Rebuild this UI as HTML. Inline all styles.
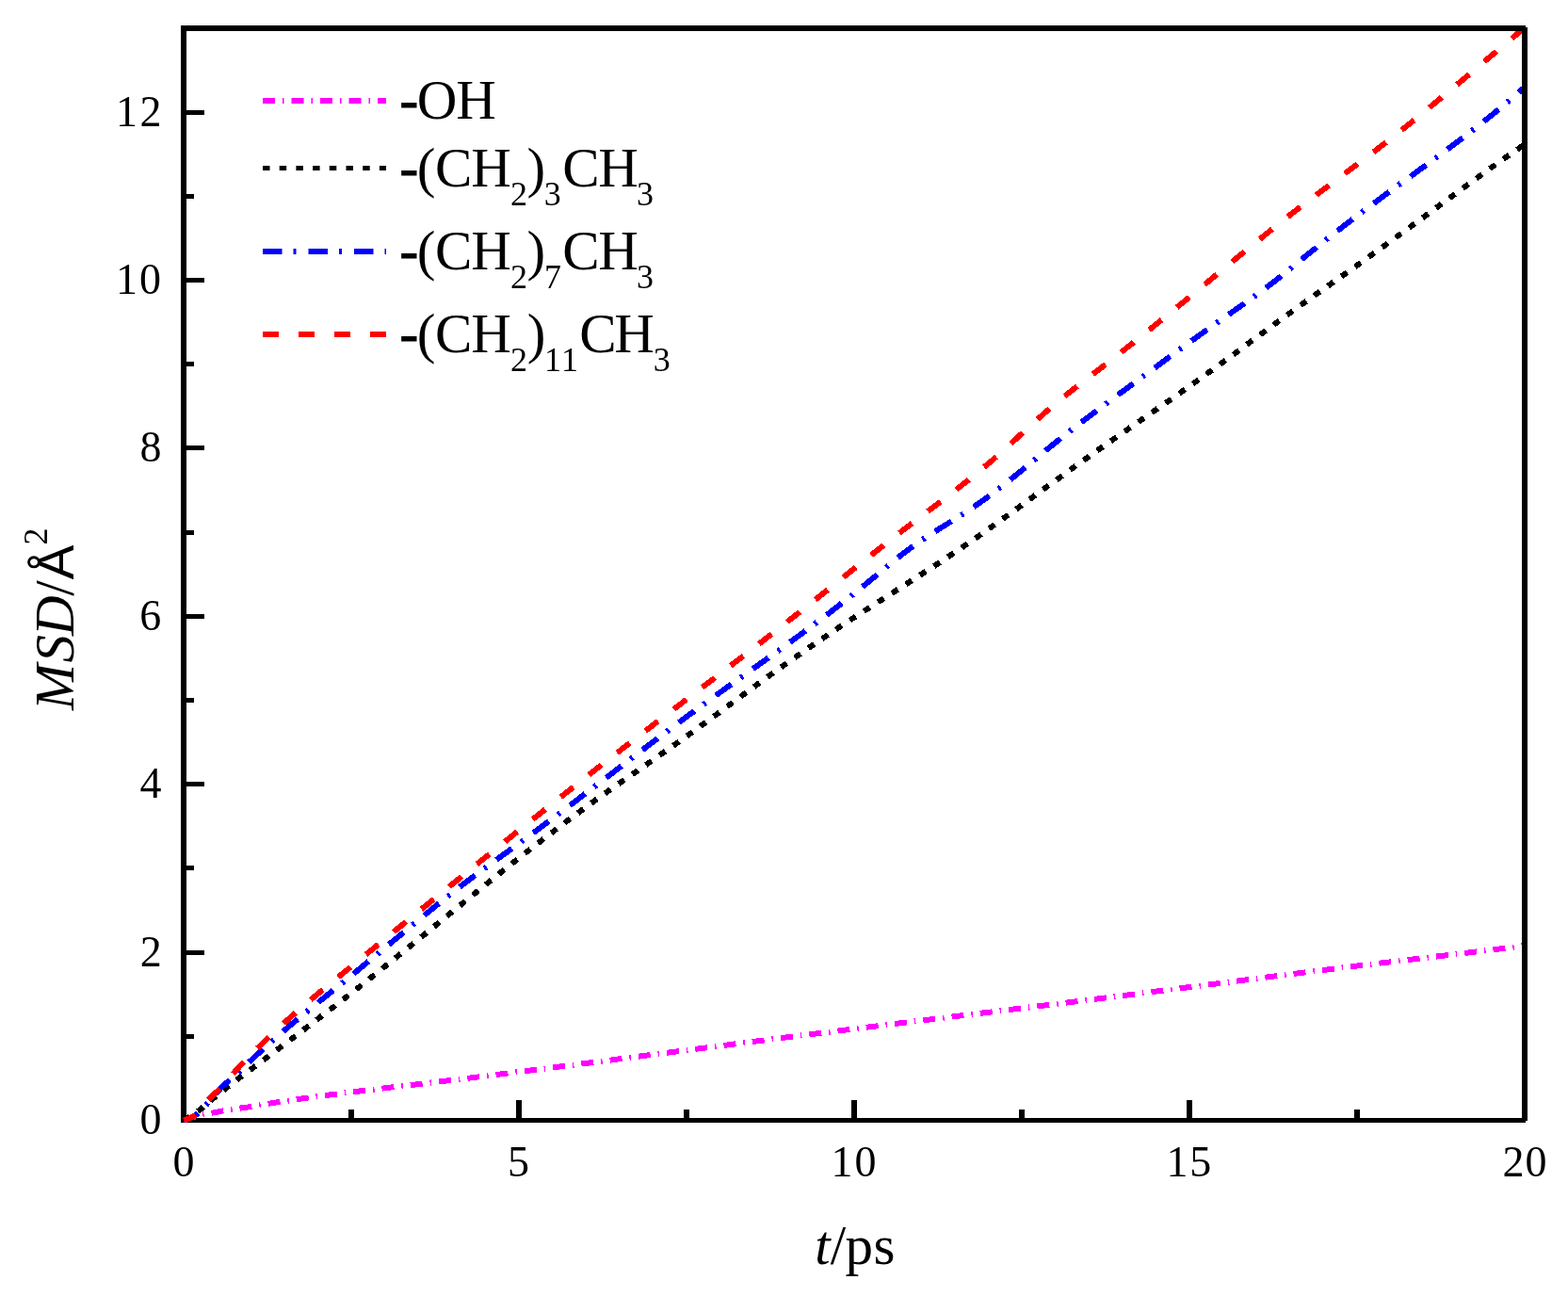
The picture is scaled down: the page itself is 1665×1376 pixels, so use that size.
<!DOCTYPE html>
<html><head><meta charset="utf-8"><title>MSD vs t</title>
<style>html,body{margin:0;padding:0;background:#fff;overflow:hidden}svg{display:block}</style>
</head><body>
<svg width="1665" height="1376" viewBox="0 0 1665 1376">
<rect width="1665" height="1376" fill="#fff"/>
<g fill="#000">
<rect x="192" y="27" width="6" height="1165"/>
<rect x="192" y="1187" width="1428" height="5"/>
<rect x="198" y="1098" width="8" height="5"/>
<rect x="198" y="1009" width="19" height="5"/>
<rect x="198" y="919" width="8" height="5"/>
<rect x="198" y="830" width="19" height="5"/>
<rect x="198" y="741" width="8" height="5"/>
<rect x="198" y="652" width="19" height="5"/>
<rect x="198" y="563" width="8" height="5"/>
<rect x="198" y="473" width="19" height="5"/>
<rect x="198" y="384" width="8" height="5"/>
<rect x="198" y="295" width="19" height="5"/>
<rect x="198" y="206" width="8" height="5"/>
<rect x="198" y="117" width="19" height="5"/>
<rect x="370" y="1178" width="6" height="9"/>
<rect x="548" y="1168" width="6" height="19"/>
<rect x="726" y="1178" width="6" height="9"/>
<rect x="904" y="1168" width="6" height="19"/>
<rect x="1082" y="1178" width="6" height="9"/>
<rect x="1260" y="1168" width="6" height="19"/>
<rect x="1438" y="1178" width="6" height="9"/>
</g>
<g fill="none" stroke-width="6" stroke-linecap="butt" stroke-linejoin="round" shape-rendering="crispEdges">
<path d="M195.0 1189.5 L197.0 1188.8 L199.0 1188.1 L201.0 1187.5 L203.0 1186.8 L205.0 1186.2 L207.0 1185.7 L209.0 1185.1 L211.0 1184.6 L213.0 1184.1 L215.0 1183.6 L217.0 1183.1 L219.0 1182.7 L221.0 1182.4 L223.0 1182.0 L225.0 1181.7 L227.0 1181.4 L229.0 1181.0 L231.0 1180.6 L233.0 1180.2 L235.0 1179.7 L237.0 1179.3 L239.0 1178.9 L241.0 1178.5 L243.0 1178.2 L245.0 1177.9 L247.0 1177.6 L249.0 1177.3 L251.0 1177.1 L253.0 1176.8 L255.0 1176.6 L257.0 1176.3 L259.0 1176.0 L261.0 1175.8 L263.0 1175.5 L265.0 1175.2 L267.0 1174.8 L269.0 1174.5 L271.0 1174.1 L273.0 1173.8 L275.0 1173.5 L277.0 1173.1 L279.0 1172.8 L281.0 1172.5 L283.0 1172.1 L285.0 1171.8 L287.0 1171.5 L289.0 1171.2 L291.0 1170.9 L293.0 1170.5 L295.0 1170.2 L297.0 1169.9 L299.0 1169.6 L301.0 1169.3 L303.0 1169.0 L305.0 1168.7 L307.0 1168.4 L309.0 1168.1 L311.0 1167.8 L313.0 1167.5 L315.0 1167.2 L317.0 1166.9 L319.0 1166.7 L321.0 1166.4 L323.0 1166.1 L325.0 1165.8 L327.0 1165.5 L329.0 1165.3 L331.0 1165.0 L333.0 1164.7 L335.0 1164.4 L337.0 1164.2 L339.0 1163.9 L341.0 1163.6 L343.0 1163.4 L345.0 1163.1 L347.0 1162.8 L349.0 1162.6 L351.0 1162.3 L353.0 1162.1 L355.0 1161.8 L357.0 1161.6 L359.0 1161.3 L361.0 1161.0 L363.0 1160.8 L365.0 1160.5 L367.0 1160.3 L369.0 1160.0 L371.0 1159.8 L373.0 1159.5 L375.0 1159.3 L377.0 1159.1 L379.0 1158.8 L381.0 1158.6 L383.0 1158.3 L385.0 1158.1 L387.0 1157.8 L389.0 1157.6 L391.0 1157.4 L393.0 1157.1 L395.0 1156.9 L397.0 1156.6 L399.0 1156.4 L401.0 1156.2 L403.0 1155.9 L405.0 1155.7 L407.0 1155.5 L409.0 1155.2 L411.0 1155.0 L413.0 1154.8 L415.0 1154.5 L417.0 1154.3 L419.0 1154.1 L421.0 1153.8 L423.0 1153.6 L425.0 1153.3 L427.0 1153.1 L429.0 1152.9 L431.0 1152.6 L433.0 1152.4 L435.0 1152.2 L437.0 1151.9 L439.0 1151.7 L441.0 1151.5 L443.0 1151.2 L445.0 1151.0 L447.0 1150.8 L449.0 1150.5 L451.0 1150.3 L453.0 1150.0 L455.0 1149.8 L457.0 1149.6 L459.0 1149.3 L461.0 1149.1 L463.0 1148.8 L465.0 1148.6 L467.0 1148.4 L469.0 1148.1 L471.0 1147.9 L473.0 1147.6 L475.0 1147.4 L477.0 1147.2 L479.0 1146.9 L481.0 1146.7 L483.0 1146.4 L485.0 1146.2 L487.0 1145.9 L489.0 1145.7 L491.0 1145.5 L493.0 1145.2 L495.0 1145.0 L497.0 1144.7 L499.0 1144.5 L501.0 1144.2 L503.0 1144.0 L505.0 1143.7 L507.0 1143.5 L509.0 1143.2 L511.0 1143.0 L513.0 1142.8 L515.0 1142.5 L517.0 1142.3 L519.0 1142.0 L521.0 1141.8 L523.0 1141.5 L525.0 1141.3 L527.0 1141.0 L529.0 1140.8 L531.0 1140.5 L533.0 1140.3 L535.0 1140.0 L537.0 1139.8 L539.0 1139.5 L541.0 1139.3 L543.0 1139.0 L545.0 1138.8 L547.0 1138.5 L549.0 1138.3 L551.0 1138.0 L553.0 1137.8 L555.0 1137.5 L557.0 1137.3 L559.0 1137.0 L561.0 1136.7 L563.0 1136.5 L565.0 1136.2 L567.0 1136.0 L569.0 1135.7 L571.0 1135.5 L573.0 1135.2 L575.0 1135.0 L577.0 1134.7 L579.0 1134.5 L581.0 1134.2 L583.0 1134.0 L585.0 1133.7 L587.0 1133.4 L589.0 1133.2 L591.0 1132.9 L593.0 1132.7 L595.0 1132.4 L597.0 1132.2 L599.0 1131.9 L601.0 1131.7 L603.0 1131.4 L605.0 1131.1 L607.0 1130.9 L609.0 1130.6 L611.0 1130.4 L613.0 1130.1 L615.0 1129.9 L617.0 1129.6 L619.0 1129.3 L621.0 1129.1 L623.0 1128.8 L625.0 1128.6 L627.0 1128.3 L629.0 1128.1 L631.0 1127.8 L633.0 1127.5 L635.0 1127.3 L637.0 1127.0 L639.0 1126.8 L641.0 1126.5 L643.0 1126.2 L645.0 1126.0 L647.0 1125.7 L649.0 1125.5 L651.0 1125.2 L653.0 1125.0 L655.0 1124.7 L657.0 1124.4 L659.0 1124.2 L661.0 1123.9 L663.0 1123.7 L665.0 1123.4 L667.0 1123.1 L669.0 1122.9 L671.0 1122.6 L673.0 1122.4 L675.0 1122.1 L677.0 1121.8 L679.0 1121.6 L681.0 1121.3 L683.0 1121.1 L685.0 1120.8 L687.0 1120.5 L689.0 1120.3 L691.0 1120.0 L693.0 1119.8 L695.0 1119.5 L697.0 1119.2 L699.0 1119.0 L701.0 1118.7 L703.0 1118.5 L705.0 1118.2 L707.0 1117.9 L709.0 1117.7 L711.0 1117.4 L713.0 1117.2 L715.0 1116.9 L717.0 1116.6 L719.0 1116.4 L721.0 1116.1 L723.0 1115.9 L725.0 1115.6 L727.0 1115.3 L729.0 1115.1 L731.0 1114.8 L733.0 1114.6 L735.0 1114.3 L737.0 1114.0 L739.0 1113.8 L741.0 1113.5 L743.0 1113.3 L745.0 1113.0 L747.0 1112.7 L749.0 1112.5 L751.0 1112.2 L753.0 1112.0 L755.0 1111.7 L757.0 1111.4 L759.0 1111.2 L761.0 1110.9 L763.0 1110.7 L765.0 1110.4 L767.0 1110.2 L769.0 1109.9 L771.0 1109.6 L773.0 1109.4 L775.0 1109.1 L777.0 1108.9 L779.0 1108.6 L781.0 1108.3 L783.0 1108.1 L785.0 1107.8 L787.0 1107.6 L789.0 1107.3 L791.0 1107.1 L793.0 1106.8 L795.0 1106.5 L797.0 1106.3 L799.0 1106.0 L801.0 1105.8 L803.0 1105.5 L805.0 1105.3 L807.0 1105.0 L809.0 1104.7 L811.0 1104.5 L813.0 1104.2 L815.0 1104.0 L817.0 1103.7 L819.0 1103.5 L821.0 1103.2 L823.0 1103.0 L825.0 1102.7 L827.0 1102.4 L829.0 1102.2 L831.0 1101.9 L833.0 1101.7 L835.0 1101.4 L837.0 1101.2 L839.0 1100.9 L841.0 1100.7 L843.0 1100.4 L845.0 1100.2 L847.0 1099.9 L849.0 1099.6 L851.0 1099.4 L853.0 1099.1 L855.0 1098.9 L857.0 1098.6 L859.0 1098.4 L861.0 1098.1 L863.0 1097.9 L865.0 1097.6 L867.0 1097.4 L869.0 1097.1 L871.0 1096.9 L873.0 1096.6 L875.0 1096.4 L877.0 1096.1 L879.0 1095.9 L881.0 1095.6 L883.0 1095.4 L885.0 1095.1 L887.0 1094.9 L889.0 1094.6 L891.0 1094.4 L893.0 1094.1 L895.0 1093.9 L897.0 1093.6 L899.0 1093.4 L901.0 1093.1 L903.0 1092.9 L905.0 1092.6 L907.0 1092.4 L909.0 1092.1 L911.0 1091.9 L913.0 1091.6 L915.0 1091.4 L917.0 1091.1 L919.0 1090.9 L921.0 1090.6 L923.0 1090.4 L925.0 1090.1 L927.0 1089.9 L929.0 1089.6 L931.0 1089.4 L933.0 1089.1 L935.0 1088.9 L937.0 1088.6 L939.0 1088.4 L941.0 1088.1 L943.0 1087.9 L945.0 1087.7 L947.0 1087.4 L949.0 1087.2 L951.0 1086.9 L953.0 1086.7 L955.0 1086.4 L957.0 1086.2 L959.0 1085.9 L961.0 1085.7 L963.0 1085.4 L965.0 1085.2 L967.0 1084.9 L969.0 1084.7 L971.0 1084.4 L973.0 1084.2 L975.0 1084.0 L977.0 1083.7 L979.0 1083.5 L981.0 1083.2 L983.0 1083.0 L985.0 1082.7 L987.0 1082.5 L989.0 1082.2 L991.0 1082.0 L993.0 1081.7 L995.0 1081.5 L997.0 1081.2 L999.0 1081.0 L1001.0 1080.8 L1003.0 1080.5 L1005.0 1080.3 L1007.0 1080.0 L1009.0 1079.8 L1011.0 1079.5 L1013.0 1079.3 L1015.0 1079.0 L1017.0 1078.8 L1019.0 1078.5 L1021.0 1078.3 L1023.0 1078.0 L1025.0 1077.8 L1027.0 1077.6 L1029.0 1077.3 L1031.0 1077.1 L1033.0 1076.8 L1035.0 1076.6 L1037.0 1076.3 L1039.0 1076.1 L1041.0 1075.8 L1043.0 1075.6 L1045.0 1075.3 L1047.0 1075.1 L1049.0 1074.9 L1051.0 1074.6 L1053.0 1074.4 L1055.0 1074.1 L1057.0 1073.9 L1059.0 1073.6 L1061.0 1073.4 L1063.0 1073.1 L1065.0 1072.9 L1067.0 1072.6 L1069.0 1072.4 L1071.0 1072.2 L1073.0 1071.9 L1075.0 1071.7 L1077.0 1071.4 L1079.0 1071.2 L1081.0 1070.9 L1083.0 1070.7 L1085.0 1070.4 L1087.0 1070.2 L1089.0 1069.9 L1091.0 1069.7 L1093.0 1069.4 L1095.0 1069.2 L1097.0 1068.9 L1099.0 1068.7 L1101.0 1068.5 L1103.0 1068.2 L1105.0 1068.0 L1107.0 1067.7 L1109.0 1067.5 L1111.0 1067.2 L1113.0 1067.0 L1115.0 1066.7 L1117.0 1066.5 L1119.0 1066.2 L1121.0 1066.0 L1123.0 1065.7 L1125.0 1065.5 L1127.0 1065.2 L1129.0 1065.0 L1131.0 1064.7 L1133.0 1064.5 L1135.0 1064.2 L1137.0 1064.0 L1139.0 1063.8 L1141.0 1063.5 L1143.0 1063.3 L1145.0 1063.0 L1147.0 1062.8 L1149.0 1062.5 L1151.0 1062.3 L1153.0 1062.0 L1155.0 1061.8 L1157.0 1061.5 L1159.0 1061.3 L1161.0 1061.0 L1163.0 1060.8 L1165.0 1060.5 L1167.0 1060.3 L1169.0 1060.0 L1171.0 1059.8 L1173.0 1059.5 L1175.0 1059.3 L1177.0 1059.0 L1179.0 1058.8 L1181.0 1058.5 L1183.0 1058.3 L1185.0 1058.0 L1187.0 1057.8 L1189.0 1057.5 L1191.0 1057.3 L1193.0 1057.0 L1195.0 1056.7 L1197.0 1056.5 L1199.0 1056.2 L1201.0 1056.0 L1203.0 1055.7 L1205.0 1055.5 L1207.0 1055.2 L1209.0 1055.0 L1211.0 1054.7 L1213.0 1054.5 L1215.0 1054.2 L1217.0 1054.0 L1219.0 1053.7 L1221.0 1053.5 L1223.0 1053.2 L1225.0 1053.0 L1227.0 1052.7 L1229.0 1052.4 L1231.0 1052.2 L1233.0 1051.9 L1235.0 1051.7 L1237.0 1051.4 L1239.0 1051.2 L1241.0 1050.9 L1243.0 1050.7 L1245.0 1050.4 L1247.0 1050.1 L1249.0 1049.9 L1251.0 1049.6 L1253.0 1049.4 L1255.0 1049.1 L1257.0 1048.9 L1259.0 1048.6 L1261.0 1048.3 L1263.0 1048.1 L1265.0 1047.8 L1267.0 1047.6 L1269.0 1047.3 L1271.0 1047.1 L1273.0 1046.8 L1275.0 1046.5 L1277.0 1046.3 L1279.0 1046.0 L1281.0 1045.8 L1283.0 1045.5 L1285.0 1045.3 L1287.0 1045.0 L1289.0 1044.7 L1291.0 1044.5 L1293.0 1044.2 L1295.0 1044.0 L1297.0 1043.7 L1299.0 1043.5 L1301.0 1043.2 L1303.0 1042.9 L1305.0 1042.7 L1307.0 1042.4 L1309.0 1042.2 L1311.0 1041.9 L1313.0 1041.7 L1315.0 1041.4 L1317.0 1041.1 L1319.0 1040.9 L1321.0 1040.6 L1323.0 1040.4 L1325.0 1040.1 L1327.0 1039.8 L1329.0 1039.6 L1331.0 1039.3 L1333.0 1039.1 L1335.0 1038.8 L1337.0 1038.6 L1339.0 1038.3 L1341.0 1038.1 L1343.0 1037.8 L1345.0 1037.5 L1347.0 1037.3 L1349.0 1037.0 L1351.0 1036.8 L1353.0 1036.5 L1355.0 1036.3 L1357.0 1036.0 L1359.0 1035.8 L1361.0 1035.5 L1363.0 1035.2 L1365.0 1035.0 L1367.0 1034.7 L1369.0 1034.5 L1371.0 1034.2 L1373.0 1034.0 L1375.0 1033.7 L1377.0 1033.5 L1379.0 1033.2 L1381.0 1033.0 L1383.0 1032.7 L1385.0 1032.5 L1387.0 1032.2 L1389.0 1032.0 L1391.0 1031.7 L1393.0 1031.5 L1395.0 1031.2 L1397.0 1031.0 L1399.0 1030.7 L1401.0 1030.5 L1403.0 1030.2 L1405.0 1030.0 L1407.0 1029.7 L1409.0 1029.5 L1411.0 1029.2 L1413.0 1029.0 L1415.0 1028.7 L1417.0 1028.5 L1419.0 1028.2 L1421.0 1028.0 L1423.0 1027.7 L1425.0 1027.5 L1427.0 1027.2 L1429.0 1027.0 L1431.0 1026.8 L1433.0 1026.5 L1435.0 1026.3 L1437.0 1026.0 L1439.0 1025.8 L1441.0 1025.5 L1443.0 1025.3 L1445.0 1025.0 L1447.0 1024.8 L1449.0 1024.6 L1451.0 1024.3 L1453.0 1024.1 L1455.0 1023.8 L1457.0 1023.6 L1459.0 1023.4 L1461.0 1023.1 L1463.0 1022.9 L1465.0 1022.7 L1467.0 1022.4 L1469.0 1022.2 L1471.0 1021.9 L1473.0 1021.7 L1475.0 1021.5 L1477.0 1021.2 L1479.0 1021.0 L1481.0 1020.8 L1483.0 1020.5 L1485.0 1020.3 L1487.0 1020.0 L1489.0 1019.8 L1491.0 1019.6 L1493.0 1019.3 L1495.0 1019.1 L1497.0 1018.9 L1499.0 1018.6 L1501.0 1018.4 L1503.0 1018.2 L1505.0 1017.9 L1507.0 1017.7 L1509.0 1017.4 L1511.0 1017.2 L1513.0 1017.0 L1515.0 1016.7 L1517.0 1016.5 L1519.0 1016.3 L1521.0 1016.0 L1523.0 1015.8 L1525.0 1015.6 L1527.0 1015.3 L1529.0 1015.1 L1531.0 1014.8 L1533.0 1014.6 L1535.0 1014.4 L1537.0 1014.1 L1539.0 1013.9 L1541.0 1013.7 L1543.0 1013.4 L1545.0 1013.2 L1547.0 1012.9 L1549.0 1012.7 L1551.0 1012.5 L1553.0 1012.2 L1555.0 1012.0 L1557.0 1011.7 L1559.0 1011.5 L1561.0 1011.3 L1563.0 1011.0 L1565.0 1010.8 L1567.0 1010.5 L1569.0 1010.3 L1571.0 1010.1 L1573.0 1009.8 L1575.0 1009.6 L1577.0 1009.3 L1579.0 1009.1 L1581.0 1008.8 L1583.0 1008.6 L1585.0 1008.3 L1587.0 1008.1 L1589.0 1007.9 L1591.0 1007.6 L1593.0 1007.4 L1595.0 1007.1 L1597.0 1006.9 L1599.0 1006.6 L1601.0 1006.4 L1603.0 1006.1 L1605.0 1005.9 L1607.0 1005.6 L1609.0 1005.3 L1611.0 1005.1 L1613.0 1004.8 L1615.0 1004.6 L1617.0 1004.3 L1619.0 1004.1" stroke="#ff00ff" stroke-dasharray="13 8 1.5 8" stroke-dashoffset="0"/>
<path d="M195.0 1189.5 L197.0 1188.4 L199.0 1187.3 L201.0 1186.0 L203.0 1184.8 L205.0 1183.5 L207.0 1182.1 L209.0 1180.7 L211.0 1179.2 L213.0 1177.7 L215.0 1176.1 L217.0 1174.4 L219.0 1172.7 L221.0 1170.9 L223.0 1169.1 L225.0 1167.3 L227.0 1165.7 L229.0 1164.1 L231.0 1162.5 L233.0 1160.9 L235.0 1159.3 L237.0 1157.7 L239.0 1156.2 L241.0 1154.6 L243.0 1153.0 L245.0 1151.4 L247.0 1149.8 L249.0 1148.2 L251.0 1146.7 L253.0 1145.2 L255.0 1143.8 L257.0 1142.3 L259.0 1140.9 L261.0 1139.5 L263.0 1138.1 L265.0 1136.6 L267.0 1135.1 L269.0 1133.6 L271.0 1132.1 L273.0 1130.6 L275.0 1129.1 L277.0 1127.6 L279.0 1126.1 L281.0 1124.6 L283.0 1123.1 L285.0 1121.6 L287.0 1120.1 L289.0 1118.5 L291.0 1117.0 L293.0 1115.5 L295.0 1114.0 L297.0 1112.5 L299.0 1111.0 L301.0 1109.5 L303.0 1108.0 L305.0 1106.5 L307.0 1105.0 L309.0 1103.5 L311.0 1101.9 L313.0 1100.4 L315.0 1098.9 L317.0 1097.4 L319.0 1095.9 L321.0 1094.4 L323.0 1092.9 L325.0 1091.3 L327.0 1089.8 L329.0 1088.3 L331.0 1086.8 L333.0 1085.2 L335.0 1083.7 L337.0 1082.2 L339.0 1080.7 L341.0 1079.1 L343.0 1077.6 L345.0 1076.1 L347.0 1074.5 L349.0 1073.0 L351.0 1071.5 L353.0 1069.9 L355.0 1068.4 L357.0 1066.8 L359.0 1065.3 L361.0 1063.8 L363.0 1062.2 L365.0 1060.7 L367.0 1059.1 L369.0 1057.5 L371.0 1056.0 L373.0 1054.4 L375.0 1052.9 L377.0 1051.3 L379.0 1049.7 L381.0 1048.2 L383.0 1046.6 L385.0 1045.0 L387.0 1043.4 L389.0 1041.8 L391.0 1040.3 L393.0 1038.7 L395.0 1037.1 L397.0 1035.5 L399.0 1033.9 L401.0 1032.3 L403.0 1030.7 L405.0 1029.1 L407.0 1027.5 L409.0 1025.9 L411.0 1024.3 L413.0 1022.7 L415.0 1021.1 L417.0 1019.5 L419.0 1017.9 L421.0 1016.2 L423.0 1014.6 L425.0 1013.0 L427.0 1011.4 L429.0 1009.8 L431.0 1008.1 L433.0 1006.5 L435.0 1004.9 L437.0 1003.3 L439.0 1001.7 L441.0 1000.0 L443.0 998.4 L445.0 996.8 L447.0 995.1 L449.0 993.5 L451.0 991.9 L453.0 990.3 L455.0 988.6 L457.0 987.0 L459.0 985.4 L461.0 983.7 L463.0 982.1 L465.0 980.5 L467.0 978.8 L469.0 977.2 L471.0 975.6 L473.0 973.9 L475.0 972.3 L477.0 970.7 L479.0 969.0 L481.0 967.4 L483.0 965.8 L485.0 964.1 L487.0 962.5 L489.0 960.9 L491.0 959.3 L493.0 957.6 L495.0 956.0 L497.0 954.4 L499.0 952.8 L501.0 951.1 L503.0 949.5 L505.0 947.9 L507.0 946.3 L509.0 944.7 L511.0 943.0 L513.0 941.4 L515.0 939.8 L517.0 938.2 L519.0 936.6 L521.0 935.0 L523.0 933.4 L525.0 931.8 L527.0 930.1 L529.0 928.5 L531.0 926.9 L533.0 925.3 L535.0 923.8 L537.0 922.2 L539.0 920.6 L541.0 919.0 L543.0 917.4 L545.0 915.8 L547.0 914.2 L549.0 912.6 L551.0 911.1 L553.0 909.5 L555.0 907.9 L557.0 906.3 L559.0 904.8 L561.0 903.2 L563.0 901.7 L565.0 900.1 L567.0 898.5 L569.0 897.0 L571.0 895.4 L573.0 893.9 L575.0 892.4 L577.0 890.8 L579.0 889.3 L581.0 887.8 L583.0 886.2 L585.0 884.7 L587.0 883.2 L589.0 881.6 L591.0 880.1 L593.0 878.6 L595.0 877.1 L597.0 875.6 L599.0 874.1 L601.0 872.6 L603.0 871.1 L605.0 869.6 L607.0 868.1 L609.0 866.6 L611.0 865.2 L613.0 863.7 L615.0 862.2 L617.0 860.7 L619.0 859.3 L621.0 857.8 L623.0 856.3 L625.0 854.9 L627.0 853.4 L629.0 852.0 L631.0 850.5 L633.0 849.1 L635.0 847.7 L637.0 846.2 L639.0 844.8 L641.0 843.4 L643.0 841.9 L645.0 840.5 L647.0 839.1 L649.0 837.7 L651.0 836.3 L653.0 834.9 L655.0 833.5 L657.0 832.1 L659.0 830.7 L661.0 829.3 L663.0 827.9 L665.0 826.5 L667.0 825.1 L669.0 823.7 L671.0 822.3 L673.0 821.0 L675.0 819.6 L677.0 818.2 L679.0 816.8 L681.0 815.4 L683.0 814.0 L685.0 812.6 L687.0 811.3 L689.0 809.9 L691.0 808.5 L693.0 807.1 L695.0 805.7 L697.0 804.3 L699.0 802.9 L701.0 801.5 L703.0 800.1 L705.0 798.7 L707.0 797.3 L709.0 795.9 L711.0 794.5 L713.0 793.1 L715.0 791.7 L717.0 790.3 L719.0 788.9 L721.0 787.5 L723.0 786.0 L725.0 784.6 L727.0 783.2 L729.0 781.7 L731.0 780.3 L733.0 778.9 L735.0 777.4 L737.0 776.0 L739.0 774.5 L741.0 773.1 L743.0 771.6 L745.0 770.1 L747.0 768.7 L749.0 767.2 L751.0 765.7 L753.0 764.3 L755.0 762.8 L757.0 761.3 L759.0 759.9 L761.0 758.4 L763.0 756.9 L765.0 755.4 L767.0 754.0 L769.0 752.5 L771.0 751.0 L773.0 749.5 L775.0 748.1 L777.0 746.6 L779.0 745.1 L781.0 743.6 L783.0 742.1 L785.0 740.7 L787.0 739.2 L789.0 737.7 L791.0 736.3 L793.0 734.8 L795.0 733.3 L797.0 731.8 L799.0 730.4 L801.0 728.9 L803.0 727.5 L805.0 726.0 L807.0 724.5 L809.0 723.1 L811.0 721.6 L813.0 720.2 L815.0 718.7 L817.0 717.3 L819.0 715.9 L821.0 714.4 L823.0 713.0 L825.0 711.6 L827.0 710.1 L829.0 708.7 L831.0 707.3 L833.0 705.9 L835.0 704.5 L837.0 703.1 L839.0 701.7 L841.0 700.3 L843.0 698.9 L845.0 697.5 L847.0 696.1 L849.0 694.7 L851.0 693.3 L853.0 691.9 L855.0 690.5 L857.0 689.1 L859.0 687.8 L861.0 686.4 L863.0 685.0 L865.0 683.6 L867.0 682.3 L869.0 680.9 L871.0 679.6 L873.0 678.2 L875.0 676.9 L877.0 675.5 L879.0 674.2 L881.0 672.8 L883.0 671.5 L885.0 670.1 L887.0 668.8 L889.0 667.5 L891.0 666.1 L893.0 664.8 L895.0 663.5 L897.0 662.2 L899.0 660.9 L901.0 659.5 L903.0 658.2 L905.0 656.9 L907.0 655.6 L909.0 654.3 L911.0 653.0 L913.0 651.7 L915.0 650.4 L917.0 649.1 L919.0 647.8 L921.0 646.6 L923.0 645.3 L925.0 644.0 L927.0 642.7 L929.0 641.4 L931.0 640.1 L933.0 638.8 L935.0 637.6 L937.0 636.3 L939.0 635.0 L941.0 633.7 L943.0 632.4 L945.0 631.2 L947.0 629.9 L949.0 628.6 L951.0 627.3 L953.0 626.1 L955.0 624.8 L957.0 623.5 L959.0 622.2 L961.0 620.9 L963.0 619.7 L965.0 618.4 L967.0 617.1 L969.0 615.8 L971.0 614.5 L973.0 613.2 L975.0 612.0 L977.0 610.7 L979.0 609.4 L981.0 608.1 L983.0 606.8 L985.0 605.5 L987.0 604.2 L989.0 602.9 L991.0 601.6 L993.0 600.3 L995.0 599.0 L997.0 597.6 L999.0 596.3 L1001.0 595.0 L1003.0 593.7 L1005.0 592.4 L1007.0 591.0 L1009.0 589.7 L1011.0 588.3 L1013.0 587.0 L1015.0 585.7 L1017.0 584.3 L1019.0 583.0 L1021.0 581.6 L1023.0 580.2 L1025.0 578.9 L1027.0 577.5 L1029.0 576.1 L1031.0 574.7 L1033.0 573.3 L1035.0 572.0 L1037.0 570.6 L1039.0 569.2 L1041.0 567.8 L1043.0 566.4 L1045.0 565.0 L1047.0 563.5 L1049.0 562.1 L1051.0 560.7 L1053.0 559.3 L1055.0 557.9 L1057.0 556.5 L1059.0 555.0 L1061.0 553.6 L1063.0 552.2 L1065.0 550.7 L1067.0 549.3 L1069.0 547.9 L1071.0 546.4 L1073.0 545.0 L1075.0 543.5 L1077.0 542.1 L1079.0 540.6 L1081.0 539.2 L1083.0 537.7 L1085.0 536.3 L1087.0 534.8 L1089.0 533.4 L1091.0 531.9 L1093.0 530.5 L1095.0 529.0 L1097.0 527.6 L1099.0 526.1 L1101.0 524.6 L1103.0 523.2 L1105.0 521.7 L1107.0 520.3 L1109.0 518.8 L1111.0 517.3 L1113.0 515.9 L1115.0 514.4 L1117.0 513.0 L1119.0 511.5 L1121.0 510.1 L1123.0 508.6 L1125.0 507.2 L1127.0 505.7 L1129.0 504.3 L1131.0 502.8 L1133.0 501.4 L1135.0 499.9 L1137.0 498.5 L1139.0 497.0 L1141.0 495.6 L1143.0 494.1 L1145.0 492.7 L1147.0 491.3 L1149.0 489.8 L1151.0 488.4 L1153.0 487.0 L1155.0 485.6 L1157.0 484.2 L1159.0 482.7 L1161.0 481.3 L1163.0 479.9 L1165.0 478.5 L1167.0 477.1 L1169.0 475.7 L1171.0 474.3 L1173.0 472.9 L1175.0 471.5 L1177.0 470.1 L1179.0 468.7 L1181.0 467.3 L1183.0 465.9 L1185.0 464.5 L1187.0 463.1 L1189.0 461.7 L1191.0 460.3 L1193.0 459.0 L1195.0 457.6 L1197.0 456.2 L1199.0 454.8 L1201.0 453.4 L1203.0 452.0 L1205.0 450.6 L1207.0 449.2 L1209.0 447.9 L1211.0 446.5 L1213.0 445.1 L1215.0 443.7 L1217.0 442.3 L1219.0 440.9 L1221.0 439.5 L1223.0 438.1 L1225.0 436.8 L1227.0 435.4 L1229.0 434.0 L1231.0 432.6 L1233.0 431.2 L1235.0 429.8 L1237.0 428.4 L1239.0 427.0 L1241.0 425.6 L1243.0 424.2 L1245.0 422.8 L1247.0 421.4 L1249.0 420.0 L1251.0 418.6 L1253.0 417.2 L1255.0 415.8 L1257.0 414.4 L1259.0 413.0 L1261.0 411.6 L1263.0 410.1 L1265.0 408.7 L1267.0 407.3 L1269.0 405.9 L1271.0 404.4 L1273.0 403.0 L1275.0 401.6 L1277.0 400.2 L1279.0 398.7 L1281.0 397.3 L1283.0 395.8 L1285.0 394.4 L1287.0 392.9 L1289.0 391.5 L1291.0 390.0 L1293.0 388.6 L1295.0 387.1 L1297.0 385.7 L1299.0 384.2 L1301.0 382.7 L1303.0 381.3 L1305.0 379.8 L1307.0 378.3 L1309.0 376.9 L1311.0 375.4 L1313.0 373.9 L1315.0 372.5 L1317.0 371.0 L1319.0 369.5 L1321.0 368.0 L1323.0 366.6 L1325.0 365.1 L1327.0 363.6 L1329.0 362.1 L1331.0 360.7 L1333.0 359.2 L1335.0 357.7 L1337.0 356.3 L1339.0 354.8 L1341.0 353.3 L1343.0 351.8 L1345.0 350.4 L1347.0 348.9 L1349.0 347.4 L1351.0 346.0 L1353.0 344.5 L1355.0 343.0 L1357.0 341.6 L1359.0 340.1 L1361.0 338.7 L1363.0 337.2 L1365.0 335.8 L1367.0 334.3 L1369.0 332.9 L1371.0 331.4 L1373.0 330.0 L1375.0 328.5 L1377.0 327.1 L1379.0 325.7 L1381.0 324.2 L1383.0 322.8 L1385.0 321.4 L1387.0 319.9 L1389.0 318.5 L1391.0 317.1 L1393.0 315.7 L1395.0 314.3 L1397.0 312.8 L1399.0 311.4 L1401.0 310.0 L1403.0 308.6 L1405.0 307.2 L1407.0 305.8 L1409.0 304.4 L1411.0 302.9 L1413.0 301.5 L1415.0 300.1 L1417.0 298.7 L1419.0 297.3 L1421.0 295.9 L1423.0 294.5 L1425.0 293.1 L1427.0 291.7 L1429.0 290.2 L1431.0 288.8 L1433.0 287.4 L1435.0 286.0 L1437.0 284.6 L1439.0 283.2 L1441.0 281.8 L1443.0 280.3 L1445.0 278.9 L1447.0 277.5 L1449.0 276.1 L1451.0 274.6 L1453.0 273.2 L1455.0 271.8 L1457.0 270.3 L1459.0 268.9 L1461.0 267.5 L1463.0 266.0 L1465.0 264.6 L1467.0 263.2 L1469.0 261.7 L1471.0 260.3 L1473.0 258.8 L1475.0 257.4 L1477.0 255.9 L1479.0 254.5 L1481.0 253.0 L1483.0 251.5 L1485.0 250.1 L1487.0 248.6 L1489.0 247.2 L1491.0 245.7 L1493.0 244.2 L1495.0 242.8 L1497.0 241.3 L1499.0 239.8 L1501.0 238.4 L1503.0 236.9 L1505.0 235.4 L1507.0 234.0 L1509.0 232.5 L1511.0 231.0 L1513.0 229.6 L1515.0 228.1 L1517.0 226.6 L1519.0 225.1 L1521.0 223.7 L1523.0 222.2 L1525.0 220.7 L1527.0 219.2 L1529.0 217.8 L1531.0 216.3 L1533.0 214.8 L1535.0 213.3 L1537.0 211.9 L1539.0 210.4 L1541.0 208.9 L1543.0 207.5 L1545.0 206.0 L1547.0 204.5 L1549.0 203.0 L1551.0 201.6 L1553.0 200.1 L1555.0 198.6 L1557.0 197.2 L1559.0 195.7 L1561.0 194.2 L1563.0 192.8 L1565.0 191.3 L1567.0 189.9 L1569.0 188.4 L1571.0 187.0 L1573.0 185.5 L1575.0 184.1 L1577.0 182.6 L1579.0 181.2 L1581.0 179.8 L1583.0 178.3 L1585.0 176.9 L1587.0 175.5 L1589.0 174.1 L1591.0 172.7 L1593.0 171.3 L1595.0 169.8 L1597.0 168.5 L1599.0 167.1 L1601.0 165.7 L1603.0 164.3 L1605.0 162.9 L1607.0 161.6 L1609.0 160.2 L1611.0 158.8 L1613.0 157.5 L1615.0 156.1 L1617.0 154.8 L1619.0 153.5" stroke="#000000" stroke-dasharray="7.5 10.2" stroke-dashoffset="0"/>
<path d="M195.0 1189.5 L197.0 1189.1 L199.0 1188.4 L201.0 1187.6 L203.0 1186.6 L205.0 1185.5 L207.0 1184.3 L209.0 1183.0 L211.0 1181.4 L213.0 1179.5 L215.0 1177.3 L217.0 1175.1 L219.0 1172.9 L221.0 1170.7 L223.0 1168.5 L225.0 1166.2 L227.0 1163.9 L229.0 1161.5 L231.0 1159.2 L233.0 1156.9 L235.0 1154.7 L237.0 1152.7 L239.0 1150.9 L241.0 1149.2 L243.0 1147.5 L245.0 1145.9 L247.0 1144.2 L249.0 1142.5 L251.0 1140.7 L253.0 1138.9 L255.0 1137.0 L257.0 1135.0 L259.0 1133.1 L261.0 1131.1 L263.0 1129.2 L265.0 1127.2 L267.0 1125.3 L269.0 1123.4 L271.0 1121.6 L273.0 1119.7 L275.0 1117.8 L277.0 1116.0 L279.0 1114.2 L281.0 1112.4 L283.0 1110.5 L285.0 1108.8 L287.0 1107.0 L289.0 1105.2 L291.0 1103.4 L293.0 1101.7 L295.0 1100.0 L297.0 1098.2 L299.0 1096.5 L301.0 1094.8 L303.0 1093.1 L305.0 1091.4 L307.0 1089.7 L309.0 1088.0 L311.0 1086.3 L313.0 1084.7 L315.0 1083.0 L317.0 1081.3 L319.0 1079.7 L321.0 1078.0 L323.0 1076.4 L325.0 1074.8 L327.0 1073.1 L329.0 1071.5 L331.0 1069.9 L333.0 1068.2 L335.0 1066.6 L337.0 1065.0 L339.0 1063.4 L341.0 1061.8 L343.0 1060.2 L345.0 1058.5 L347.0 1056.9 L349.0 1055.3 L351.0 1053.7 L353.0 1052.1 L355.0 1050.5 L357.0 1048.9 L359.0 1047.2 L361.0 1045.6 L363.0 1044.0 L365.0 1042.4 L367.0 1040.7 L369.0 1039.1 L371.0 1037.5 L373.0 1035.9 L375.0 1034.2 L377.0 1032.6 L379.0 1030.9 L381.0 1029.3 L383.0 1027.6 L385.0 1026.0 L387.0 1024.3 L389.0 1022.7 L391.0 1021.0 L393.0 1019.4 L395.0 1017.7 L397.0 1016.1 L399.0 1014.4 L401.0 1012.8 L403.0 1011.1 L405.0 1009.4 L407.0 1007.8 L409.0 1006.1 L411.0 1004.5 L413.0 1002.8 L415.0 1001.1 L417.0 999.5 L419.0 997.8 L421.0 996.2 L423.0 994.5 L425.0 992.9 L427.0 991.2 L429.0 989.5 L431.0 987.9 L433.0 986.2 L435.0 984.6 L437.0 982.9 L439.0 981.3 L441.0 979.6 L443.0 978.0 L445.0 976.3 L447.0 974.7 L449.0 973.1 L451.0 971.4 L453.0 969.8 L455.0 968.2 L457.0 966.5 L459.0 964.9 L461.0 963.3 L463.0 961.7 L465.0 960.0 L467.0 958.4 L469.0 956.8 L471.0 955.2 L473.0 953.6 L475.0 952.0 L477.0 950.4 L479.0 948.9 L481.0 947.3 L483.0 945.7 L485.0 944.2 L487.0 942.6 L489.0 941.1 L491.0 939.5 L493.0 938.0 L495.0 936.5 L497.0 935.0 L499.0 933.5 L501.0 932.0 L503.0 930.5 L505.0 929.0 L507.0 927.5 L509.0 926.0 L511.0 924.6 L513.0 923.1 L515.0 921.7 L517.0 920.2 L519.0 918.7 L521.0 917.3 L523.0 915.8 L525.0 914.4 L527.0 912.9 L529.0 911.5 L531.0 910.0 L533.0 908.6 L535.0 907.1 L537.0 905.7 L539.0 904.2 L541.0 902.8 L543.0 901.3 L545.0 899.9 L547.0 898.4 L549.0 896.9 L551.0 895.5 L553.0 894.0 L555.0 892.5 L557.0 891.1 L559.0 889.6 L561.0 888.1 L563.0 886.6 L565.0 885.1 L567.0 883.7 L569.0 882.2 L571.0 880.7 L573.0 879.2 L575.0 877.7 L577.0 876.2 L579.0 874.7 L581.0 873.3 L583.0 871.8 L585.0 870.3 L587.0 868.8 L589.0 867.3 L591.0 865.8 L593.0 864.3 L595.0 862.8 L597.0 861.3 L599.0 859.7 L601.0 858.2 L603.0 856.7 L605.0 855.2 L607.0 853.7 L609.0 852.2 L611.0 850.7 L613.0 849.2 L615.0 847.6 L617.0 846.1 L619.0 844.6 L621.0 843.1 L623.0 841.6 L625.0 840.0 L627.0 838.5 L629.0 837.0 L631.0 835.5 L633.0 833.9 L635.0 832.4 L637.0 830.9 L639.0 829.4 L641.0 827.8 L643.0 826.3 L645.0 824.8 L647.0 823.2 L649.0 821.7 L651.0 820.2 L653.0 818.6 L655.0 817.1 L657.0 815.6 L659.0 814.0 L661.0 812.5 L663.0 811.0 L665.0 809.4 L667.0 807.9 L669.0 806.4 L671.0 804.8 L673.0 803.3 L675.0 801.8 L677.0 800.2 L679.0 798.7 L681.0 797.2 L683.0 795.7 L685.0 794.1 L687.0 792.6 L689.0 791.1 L691.0 789.6 L693.0 788.0 L695.0 786.5 L697.0 785.0 L699.0 783.5 L701.0 782.0 L703.0 780.5 L705.0 779.0 L707.0 777.4 L709.0 775.9 L711.0 774.4 L713.0 772.9 L715.0 771.4 L717.0 769.9 L719.0 768.5 L721.0 767.0 L723.0 765.5 L725.0 764.0 L727.0 762.5 L729.0 761.0 L731.0 759.6 L733.0 758.1 L735.0 756.6 L737.0 755.2 L739.0 753.7 L741.0 752.2 L743.0 750.8 L745.0 749.3 L747.0 747.9 L749.0 746.4 L751.0 745.0 L753.0 743.5 L755.0 742.1 L757.0 740.6 L759.0 739.2 L761.0 737.7 L763.0 736.3 L765.0 734.9 L767.0 733.4 L769.0 732.0 L771.0 730.6 L773.0 729.1 L775.0 727.7 L777.0 726.3 L779.0 724.8 L781.0 723.4 L783.0 722.0 L785.0 720.5 L787.0 719.1 L789.0 717.7 L791.0 716.2 L793.0 714.8 L795.0 713.4 L797.0 712.0 L799.0 710.5 L801.0 709.1 L803.0 707.7 L805.0 706.2 L807.0 704.8 L809.0 703.4 L811.0 701.9 L813.0 700.5 L815.0 699.1 L817.0 697.6 L819.0 696.2 L821.0 694.7 L823.0 693.3 L825.0 691.9 L827.0 690.4 L829.0 689.0 L831.0 687.5 L833.0 686.1 L835.0 684.6 L837.0 683.2 L839.0 681.7 L841.0 680.2 L843.0 678.8 L845.0 677.3 L847.0 675.9 L849.0 674.4 L851.0 672.9 L853.0 671.4 L855.0 670.0 L857.0 668.5 L859.0 667.0 L861.0 665.5 L863.0 664.0 L865.0 662.5 L867.0 661.0 L869.0 659.5 L871.0 658.0 L873.0 656.5 L875.0 655.0 L877.0 653.5 L879.0 651.9 L881.0 650.4 L883.0 648.9 L885.0 647.3 L887.0 645.8 L889.0 644.2 L891.0 642.7 L893.0 641.1 L895.0 639.6 L897.0 638.0 L899.0 636.4 L901.0 634.9 L903.0 633.3 L905.0 631.7 L907.0 630.1 L909.0 628.5 L911.0 626.9 L913.0 625.3 L915.0 623.6 L917.0 622.0 L919.0 620.4 L921.0 618.8 L923.0 617.1 L925.0 615.5 L927.0 613.8 L929.0 612.2 L931.0 610.5 L933.0 608.8 L935.0 607.2 L937.0 605.5 L939.0 603.9 L941.0 602.2 L943.0 600.6 L945.0 598.9 L947.0 597.3 L949.0 595.7 L951.0 594.1 L953.0 592.5 L955.0 590.9 L957.0 589.3 L959.0 587.8 L961.0 586.2 L963.0 584.7 L965.0 583.2 L967.0 581.8 L969.0 580.3 L971.0 578.9 L973.0 577.4 L975.0 576.0 L977.0 574.7 L979.0 573.3 L981.0 572.0 L983.0 570.6 L985.0 569.3 L987.0 568.0 L989.0 566.7 L991.0 565.5 L993.0 564.2 L995.0 563.0 L997.0 561.7 L999.0 560.5 L1001.0 559.2 L1003.0 558.0 L1005.0 556.8 L1007.0 555.5 L1009.0 554.3 L1011.0 553.0 L1013.0 551.8 L1015.0 550.6 L1017.0 549.3 L1019.0 548.0 L1021.0 546.8 L1023.0 545.5 L1025.0 544.2 L1027.0 542.9 L1029.0 541.5 L1031.0 540.2 L1033.0 538.8 L1035.0 537.5 L1037.0 536.1 L1039.0 534.7 L1041.0 533.3 L1043.0 531.9 L1045.0 530.5 L1047.0 529.1 L1049.0 527.6 L1051.0 526.1 L1053.0 524.7 L1055.0 523.2 L1057.0 521.7 L1059.0 520.1 L1061.0 518.6 L1063.0 517.1 L1065.0 515.5 L1067.0 513.9 L1069.0 512.3 L1071.0 510.7 L1073.0 509.1 L1075.0 507.5 L1077.0 505.9 L1079.0 504.3 L1081.0 502.6 L1083.0 501.0 L1085.0 499.4 L1087.0 497.7 L1089.0 496.0 L1091.0 494.4 L1093.0 492.7 L1095.0 491.1 L1097.0 489.4 L1099.0 487.8 L1101.0 486.1 L1103.0 484.4 L1105.0 482.8 L1107.0 481.1 L1109.0 479.5 L1111.0 477.8 L1113.0 476.2 L1115.0 474.6 L1117.0 472.9 L1119.0 471.3 L1121.0 469.7 L1123.0 468.1 L1125.0 466.5 L1127.0 464.9 L1129.0 463.3 L1131.0 461.7 L1133.0 460.2 L1135.0 458.6 L1137.0 457.0 L1139.0 455.5 L1141.0 453.9 L1143.0 452.4 L1145.0 450.8 L1147.0 449.3 L1149.0 447.8 L1151.0 446.2 L1153.0 444.7 L1155.0 443.2 L1157.0 441.7 L1159.0 440.2 L1161.0 438.7 L1163.0 437.2 L1165.0 435.7 L1167.0 434.2 L1169.0 432.7 L1171.0 431.2 L1173.0 429.7 L1175.0 428.2 L1177.0 426.7 L1179.0 425.2 L1181.0 423.7 L1183.0 422.3 L1185.0 420.8 L1187.0 419.3 L1189.0 417.8 L1191.0 416.4 L1193.0 414.9 L1195.0 413.4 L1197.0 412.0 L1199.0 410.5 L1201.0 409.0 L1203.0 407.5 L1205.0 406.1 L1207.0 404.6 L1209.0 403.1 L1211.0 401.7 L1213.0 400.2 L1215.0 398.7 L1217.0 397.3 L1219.0 395.8 L1221.0 394.3 L1223.0 392.8 L1225.0 391.4 L1227.0 389.9 L1229.0 388.4 L1231.0 387.0 L1233.0 385.5 L1235.0 384.0 L1237.0 382.5 L1239.0 381.1 L1241.0 379.6 L1243.0 378.1 L1245.0 376.7 L1247.0 375.2 L1249.0 373.7 L1251.0 372.3 L1253.0 370.8 L1255.0 369.4 L1257.0 367.9 L1259.0 366.4 L1261.0 365.0 L1263.0 363.5 L1265.0 362.1 L1267.0 360.6 L1269.0 359.2 L1271.0 357.8 L1273.0 356.3 L1275.0 354.9 L1277.0 353.4 L1279.0 352.0 L1281.0 350.6 L1283.0 349.2 L1285.0 347.7 L1287.0 346.3 L1289.0 344.9 L1291.0 343.5 L1293.0 342.1 L1295.0 340.7 L1297.0 339.3 L1299.0 337.9 L1301.0 336.5 L1303.0 335.1 L1305.0 333.7 L1307.0 332.3 L1309.0 330.9 L1311.0 329.5 L1313.0 328.1 L1315.0 326.7 L1317.0 325.3 L1319.0 323.9 L1321.0 322.5 L1323.0 321.1 L1325.0 319.7 L1327.0 318.3 L1329.0 316.8 L1331.0 315.4 L1333.0 314.0 L1335.0 312.5 L1337.0 311.0 L1339.0 309.6 L1341.0 308.1 L1343.0 306.6 L1345.0 305.1 L1347.0 303.6 L1349.0 302.0 L1351.0 300.5 L1353.0 298.9 L1355.0 297.4 L1357.0 295.8 L1359.0 294.2 L1361.0 292.6 L1363.0 291.0 L1365.0 289.4 L1367.0 287.8 L1369.0 286.2 L1371.0 284.5 L1373.0 282.9 L1375.0 281.3 L1377.0 279.6 L1379.0 278.0 L1381.0 276.3 L1383.0 274.7 L1385.0 273.1 L1387.0 271.5 L1389.0 269.8 L1391.0 268.2 L1393.0 266.6 L1395.0 265.0 L1397.0 263.4 L1399.0 261.8 L1401.0 260.2 L1403.0 258.6 L1405.0 257.0 L1407.0 255.4 L1409.0 253.8 L1411.0 252.3 L1413.0 250.7 L1415.0 249.1 L1417.0 247.6 L1419.0 246.0 L1421.0 244.5 L1423.0 242.9 L1425.0 241.4 L1427.0 239.8 L1429.0 238.3 L1431.0 236.8 L1433.0 235.2 L1435.0 233.7 L1437.0 232.2 L1439.0 230.7 L1441.0 229.2 L1443.0 227.6 L1445.0 226.1 L1447.0 224.6 L1449.0 223.1 L1451.0 221.6 L1453.0 220.1 L1455.0 218.6 L1457.0 217.2 L1459.0 215.7 L1461.0 214.2 L1463.0 212.7 L1465.0 211.2 L1467.0 209.8 L1469.0 208.3 L1471.0 206.8 L1473.0 205.4 L1475.0 203.9 L1477.0 202.4 L1479.0 201.0 L1481.0 199.5 L1483.0 198.0 L1485.0 196.6 L1487.0 195.1 L1489.0 193.7 L1491.0 192.2 L1493.0 190.8 L1495.0 189.3 L1497.0 187.9 L1499.0 186.4 L1501.0 184.9 L1503.0 183.5 L1505.0 182.0 L1507.0 180.6 L1509.0 179.1 L1511.0 177.7 L1513.0 176.2 L1515.0 174.7 L1517.0 173.3 L1519.0 171.8 L1521.0 170.4 L1523.0 168.9 L1525.0 167.4 L1527.0 165.9 L1529.0 164.5 L1531.0 163.0 L1533.0 161.5 L1535.0 160.0 L1537.0 158.5 L1539.0 157.0 L1541.0 155.5 L1543.0 154.0 L1545.0 152.5 L1547.0 151.0 L1549.0 149.5 L1551.0 148.0 L1553.0 146.5 L1555.0 145.0 L1557.0 143.4 L1559.0 141.9 L1561.0 140.4 L1563.0 138.8 L1565.0 137.3 L1567.0 135.7 L1569.0 134.1 L1571.0 132.6 L1573.0 131.0 L1575.0 129.4 L1577.0 127.8 L1579.0 126.2 L1581.0 124.6 L1583.0 123.0 L1585.0 121.4 L1587.0 119.7 L1589.0 118.1 L1591.0 116.5 L1593.0 114.8 L1595.0 113.1 L1597.0 111.5 L1599.0 109.8 L1601.0 108.1 L1603.0 106.4 L1605.0 104.7 L1607.0 103.0 L1609.0 101.3 L1611.0 99.5 L1613.0 97.8 L1615.0 96.0 L1617.0 94.3 L1619.0 92.5" stroke="#0000ff" stroke-dasharray="20.5 12 3 13" stroke-dashoffset="3"/>
<path d="M195.0 1189.5 L197.0 1188.9 L199.0 1188.1 L201.0 1187.3 L203.0 1186.4 L205.0 1185.4 L207.0 1184.2 L209.0 1182.4 L211.0 1179.8 L213.0 1177.1 L215.0 1174.6 L217.0 1172.3 L219.0 1170.0 L221.0 1167.8 L223.0 1165.8 L225.0 1163.9 L227.0 1162.1 L229.0 1160.2 L231.0 1158.4 L233.0 1156.6 L235.0 1154.6 L237.0 1152.4 L239.0 1150.1 L241.0 1147.7 L243.0 1145.3 L245.0 1143.0 L247.0 1140.6 L249.0 1138.3 L251.0 1136.1 L253.0 1133.9 L255.0 1131.7 L257.0 1129.6 L259.0 1127.5 L261.0 1125.4 L263.0 1123.4 L265.0 1121.3 L267.0 1119.3 L269.0 1117.3 L271.0 1115.2 L273.0 1113.2 L275.0 1111.3 L277.0 1109.3 L279.0 1107.3 L281.0 1105.4 L283.0 1103.5 L285.0 1101.6 L287.0 1099.7 L289.0 1097.8 L291.0 1095.9 L293.0 1094.0 L295.0 1092.2 L297.0 1090.4 L299.0 1088.5 L301.0 1086.7 L303.0 1084.9 L305.0 1083.1 L307.0 1081.4 L309.0 1079.6 L311.0 1077.8 L313.0 1076.1 L315.0 1074.3 L317.0 1072.6 L319.0 1070.9 L321.0 1069.2 L323.0 1067.4 L325.0 1065.7 L327.0 1064.0 L329.0 1062.4 L331.0 1060.7 L333.0 1059.0 L335.0 1057.3 L337.0 1055.6 L339.0 1054.0 L341.0 1052.3 L343.0 1050.7 L345.0 1049.0 L347.0 1047.4 L349.0 1045.7 L351.0 1044.1 L353.0 1042.5 L355.0 1040.8 L357.0 1039.2 L359.0 1037.5 L361.0 1035.9 L363.0 1034.3 L365.0 1032.7 L367.0 1031.0 L369.0 1029.4 L371.0 1027.8 L373.0 1026.1 L375.0 1024.5 L377.0 1022.9 L379.0 1021.2 L381.0 1019.6 L383.0 1018.0 L385.0 1016.3 L387.0 1014.7 L389.0 1013.1 L391.0 1011.4 L393.0 1009.8 L395.0 1008.2 L397.0 1006.5 L399.0 1004.9 L401.0 1003.3 L403.0 1001.6 L405.0 1000.0 L407.0 998.4 L409.0 996.7 L411.0 995.1 L413.0 993.5 L415.0 991.8 L417.0 990.2 L419.0 988.6 L421.0 986.9 L423.0 985.3 L425.0 983.7 L427.0 982.1 L429.0 980.4 L431.0 978.8 L433.0 977.2 L435.0 975.5 L437.0 973.9 L439.0 972.3 L441.0 970.6 L443.0 969.0 L445.0 967.4 L447.0 965.8 L449.0 964.1 L451.0 962.5 L453.0 960.9 L455.0 959.2 L457.0 957.6 L459.0 956.0 L461.0 954.4 L463.0 952.7 L465.0 951.1 L467.0 949.5 L469.0 947.9 L471.0 946.2 L473.0 944.6 L475.0 943.0 L477.0 941.4 L479.0 939.7 L481.0 938.1 L483.0 936.5 L485.0 934.9 L487.0 933.2 L489.0 931.6 L491.0 930.0 L493.0 928.4 L495.0 926.8 L497.0 925.1 L499.0 923.5 L501.0 921.9 L503.0 920.3 L505.0 918.7 L507.0 917.1 L509.0 915.4 L511.0 913.8 L513.0 912.2 L515.0 910.6 L517.0 909.0 L519.0 907.4 L521.0 905.8 L523.0 904.1 L525.0 902.5 L527.0 900.9 L529.0 899.3 L531.0 897.7 L533.0 896.1 L535.0 894.5 L537.0 892.9 L539.0 891.3 L541.0 889.7 L543.0 888.1 L545.0 886.4 L547.0 884.8 L549.0 883.2 L551.0 881.6 L553.0 880.0 L555.0 878.4 L557.0 876.8 L559.0 875.2 L561.0 873.6 L563.0 872.0 L565.0 870.4 L567.0 868.8 L569.0 867.2 L571.0 865.7 L573.0 864.1 L575.0 862.5 L577.0 860.9 L579.0 859.3 L581.0 857.7 L583.0 856.1 L585.0 854.5 L587.0 852.9 L589.0 851.3 L591.0 849.7 L593.0 848.2 L595.0 846.6 L597.0 845.0 L599.0 843.4 L601.0 841.8 L603.0 840.2 L605.0 838.7 L607.0 837.1 L609.0 835.5 L611.0 833.9 L613.0 832.3 L615.0 830.8 L617.0 829.2 L619.0 827.6 L621.0 826.0 L623.0 824.5 L625.0 822.9 L627.0 821.3 L629.0 819.8 L631.0 818.2 L633.0 816.6 L635.0 815.1 L637.0 813.5 L639.0 811.9 L641.0 810.4 L643.0 808.8 L645.0 807.3 L647.0 805.7 L649.0 804.1 L651.0 802.6 L653.0 801.0 L655.0 799.5 L657.0 797.9 L659.0 796.4 L661.0 794.8 L663.0 793.3 L665.0 791.7 L667.0 790.2 L669.0 788.6 L671.0 787.1 L673.0 785.5 L675.0 784.0 L677.0 782.4 L679.0 780.9 L681.0 779.4 L683.0 777.8 L685.0 776.3 L687.0 774.7 L689.0 773.2 L691.0 771.7 L693.0 770.1 L695.0 768.6 L697.0 767.1 L699.0 765.5 L701.0 764.0 L703.0 762.5 L705.0 760.9 L707.0 759.4 L709.0 757.9 L711.0 756.3 L713.0 754.8 L715.0 753.3 L717.0 751.8 L719.0 750.2 L721.0 748.7 L723.0 747.2 L725.0 745.6 L727.0 744.1 L729.0 742.6 L731.0 741.1 L733.0 739.5 L735.0 738.0 L737.0 736.5 L739.0 734.9 L741.0 733.4 L743.0 731.9 L745.0 730.4 L747.0 728.8 L749.0 727.3 L751.0 725.8 L753.0 724.3 L755.0 722.7 L757.0 721.2 L759.0 719.7 L761.0 718.1 L763.0 716.6 L765.0 715.1 L767.0 713.5 L769.0 712.0 L771.0 710.5 L773.0 709.0 L775.0 707.4 L777.0 705.9 L779.0 704.3 L781.0 702.8 L783.0 701.3 L785.0 699.7 L787.0 698.2 L789.0 696.7 L791.0 695.1 L793.0 693.6 L795.0 692.0 L797.0 690.5 L799.0 689.0 L801.0 687.4 L803.0 685.9 L805.0 684.3 L807.0 682.8 L809.0 681.2 L811.0 679.7 L813.0 678.1 L815.0 676.6 L817.0 675.0 L819.0 673.5 L821.0 671.9 L823.0 670.3 L825.0 668.8 L827.0 667.2 L829.0 665.7 L831.0 664.1 L833.0 662.5 L835.0 661.0 L837.0 659.4 L839.0 657.8 L841.0 656.3 L843.0 654.7 L845.0 653.1 L847.0 651.5 L849.0 650.0 L851.0 648.4 L853.0 646.8 L855.0 645.2 L857.0 643.6 L859.0 642.0 L861.0 640.4 L863.0 638.9 L865.0 637.3 L867.0 635.7 L869.0 634.1 L871.0 632.5 L873.0 630.9 L875.0 629.3 L877.0 627.7 L879.0 626.1 L881.0 624.5 L883.0 622.9 L885.0 621.3 L887.0 619.7 L889.0 618.1 L891.0 616.5 L893.0 614.9 L895.0 613.3 L897.0 611.7 L899.0 610.1 L901.0 608.5 L903.0 606.9 L905.0 605.3 L907.0 603.7 L909.0 602.1 L911.0 600.6 L913.0 599.0 L915.0 597.4 L917.0 595.8 L919.0 594.2 L921.0 592.6 L923.0 591.0 L925.0 589.4 L927.0 587.9 L929.0 586.3 L931.0 584.7 L933.0 583.1 L935.0 581.5 L937.0 580.0 L939.0 578.4 L941.0 576.8 L943.0 575.3 L945.0 573.7 L947.0 572.1 L949.0 570.6 L951.0 569.0 L953.0 567.5 L955.0 565.9 L957.0 564.4 L959.0 562.8 L961.0 561.3 L963.0 559.7 L965.0 558.2 L967.0 556.7 L969.0 555.1 L971.0 553.6 L973.0 552.1 L975.0 550.6 L977.0 549.0 L979.0 547.5 L981.0 546.0 L983.0 544.5 L985.0 543.0 L987.0 541.5 L989.0 540.0 L991.0 538.4 L993.0 536.9 L995.0 535.4 L997.0 533.9 L999.0 532.4 L1001.0 530.8 L1003.0 529.3 L1005.0 527.8 L1007.0 526.3 L1009.0 524.7 L1011.0 523.2 L1013.0 521.6 L1015.0 520.1 L1017.0 518.5 L1019.0 517.0 L1021.0 515.4 L1023.0 513.8 L1025.0 512.2 L1027.0 510.7 L1029.0 509.1 L1031.0 507.5 L1033.0 505.8 L1035.0 504.2 L1037.0 502.6 L1039.0 501.0 L1041.0 499.3 L1043.0 497.6 L1045.0 496.0 L1047.0 494.3 L1049.0 492.6 L1051.0 490.9 L1053.0 489.2 L1055.0 487.5 L1057.0 485.7 L1059.0 484.0 L1061.0 482.2 L1063.0 480.4 L1065.0 478.6 L1067.0 476.8 L1069.0 475.0 L1071.0 473.2 L1073.0 471.4 L1075.0 469.6 L1077.0 467.7 L1079.0 465.9 L1081.0 464.1 L1083.0 462.2 L1085.0 460.4 L1087.0 458.6 L1089.0 456.7 L1091.0 454.9 L1093.0 453.1 L1095.0 451.3 L1097.0 449.4 L1099.0 447.6 L1101.0 445.8 L1103.0 444.0 L1105.0 442.3 L1107.0 440.5 L1109.0 438.7 L1111.0 437.0 L1113.0 435.2 L1115.0 433.5 L1117.0 431.8 L1119.0 430.1 L1121.0 428.4 L1123.0 426.8 L1125.0 425.1 L1127.0 423.5 L1129.0 421.9 L1131.0 420.2 L1133.0 418.6 L1135.0 417.0 L1137.0 415.4 L1139.0 413.9 L1141.0 412.3 L1143.0 410.7 L1145.0 409.2 L1147.0 407.6 L1149.0 406.0 L1151.0 404.5 L1153.0 403.0 L1155.0 401.4 L1157.0 399.9 L1159.0 398.3 L1161.0 396.8 L1163.0 395.3 L1165.0 393.7 L1167.0 392.2 L1169.0 390.7 L1171.0 389.1 L1173.0 387.6 L1175.0 386.0 L1177.0 384.5 L1179.0 382.9 L1181.0 381.4 L1183.0 379.8 L1185.0 378.3 L1187.0 376.7 L1189.0 375.1 L1191.0 373.6 L1193.0 372.0 L1195.0 370.4 L1197.0 368.8 L1199.0 367.3 L1201.0 365.7 L1203.0 364.1 L1205.0 362.5 L1207.0 360.9 L1209.0 359.3 L1211.0 357.7 L1213.0 356.1 L1215.0 354.5 L1217.0 352.9 L1219.0 351.3 L1221.0 349.7 L1223.0 348.1 L1225.0 346.5 L1227.0 344.8 L1229.0 343.2 L1231.0 341.6 L1233.0 340.0 L1235.0 338.4 L1237.0 336.7 L1239.0 335.1 L1241.0 333.5 L1243.0 331.9 L1245.0 330.2 L1247.0 328.6 L1249.0 326.9 L1251.0 325.3 L1253.0 323.7 L1255.0 322.0 L1257.0 320.4 L1259.0 318.7 L1261.0 317.1 L1263.0 315.5 L1265.0 313.8 L1267.0 312.2 L1269.0 310.5 L1271.0 308.9 L1273.0 307.2 L1275.0 305.5 L1277.0 303.9 L1279.0 302.2 L1281.0 300.6 L1283.0 298.9 L1285.0 297.3 L1287.0 295.6 L1289.0 294.0 L1291.0 292.3 L1293.0 290.6 L1295.0 289.0 L1297.0 287.3 L1299.0 285.7 L1301.0 284.0 L1303.0 282.4 L1305.0 280.7 L1307.0 279.1 L1309.0 277.4 L1311.0 275.8 L1313.0 274.1 L1315.0 272.5 L1317.0 270.8 L1319.0 269.2 L1321.0 267.5 L1323.0 265.9 L1325.0 264.3 L1327.0 262.6 L1329.0 261.0 L1331.0 259.4 L1333.0 257.7 L1335.0 256.1 L1337.0 254.5 L1339.0 252.9 L1341.0 251.2 L1343.0 249.6 L1345.0 248.0 L1347.0 246.4 L1349.0 244.8 L1351.0 243.2 L1353.0 241.6 L1355.0 240.0 L1357.0 238.4 L1359.0 236.8 L1361.0 235.2 L1363.0 233.6 L1365.0 232.0 L1367.0 230.5 L1369.0 228.9 L1371.0 227.3 L1373.0 225.8 L1375.0 224.2 L1377.0 222.7 L1379.0 221.1 L1381.0 219.6 L1383.0 218.0 L1385.0 216.5 L1387.0 215.0 L1389.0 213.4 L1391.0 211.9 L1393.0 210.4 L1395.0 208.9 L1397.0 207.4 L1399.0 205.9 L1401.0 204.4 L1403.0 202.9 L1405.0 201.4 L1407.0 199.9 L1409.0 198.4 L1411.0 196.9 L1413.0 195.4 L1415.0 193.9 L1417.0 192.4 L1419.0 190.9 L1421.0 189.4 L1423.0 187.9 L1425.0 186.4 L1427.0 185.0 L1429.0 183.5 L1431.0 182.0 L1433.0 180.5 L1435.0 179.0 L1437.0 177.5 L1439.0 176.0 L1441.0 174.5 L1443.0 173.0 L1445.0 171.5 L1447.0 170.0 L1449.0 168.5 L1451.0 167.0 L1453.0 165.5 L1455.0 164.0 L1457.0 162.5 L1459.0 160.9 L1461.0 159.4 L1463.0 157.9 L1465.0 156.3 L1467.0 154.8 L1469.0 153.3 L1471.0 151.7 L1473.0 150.2 L1475.0 148.6 L1477.0 147.0 L1479.0 145.5 L1481.0 143.9 L1483.0 142.3 L1485.0 140.7 L1487.0 139.2 L1489.0 137.6 L1491.0 136.0 L1493.0 134.4 L1495.0 132.8 L1497.0 131.2 L1499.0 129.5 L1501.0 127.9 L1503.0 126.3 L1505.0 124.7 L1507.0 123.1 L1509.0 121.4 L1511.0 119.8 L1513.0 118.2 L1515.0 116.5 L1517.0 114.9 L1519.0 113.2 L1521.0 111.6 L1523.0 109.9 L1525.0 108.3 L1527.0 106.6 L1529.0 105.0 L1531.0 103.3 L1533.0 101.6 L1535.0 100.0 L1537.0 98.3 L1539.0 96.6 L1541.0 95.0 L1543.0 93.3 L1545.0 91.6 L1547.0 89.9 L1549.0 88.3 L1551.0 86.6 L1553.0 84.9 L1555.0 83.2 L1557.0 81.5 L1559.0 79.9 L1561.0 78.2 L1563.0 76.5 L1565.0 74.8 L1567.0 73.1 L1569.0 71.4 L1571.0 69.8 L1573.0 68.1 L1575.0 66.4 L1577.0 64.7 L1579.0 63.0 L1581.0 61.3 L1583.0 59.6 L1585.0 58.0 L1587.0 56.3 L1589.0 54.6 L1591.0 52.9 L1593.0 51.2 L1595.0 49.5 L1597.0 47.9 L1599.0 46.2 L1601.0 44.5 L1603.0 42.8 L1605.0 41.2 L1607.0 39.5 L1609.0 37.8 L1611.0 36.1 L1613.0 34.5 L1615.0 32.8 L1617.0 31.1 L1619.0 29.5" stroke="#ff0000" stroke-dasharray="17 21" stroke-dashoffset="3"/>
</g>
<g fill="#000"><rect x="195" y="27" width="1425" height="6"/><rect x="1616" y="29" width="6" height="1161"/></g>
<g font-family="'Liberation Serif', 'Times New Roman', serif" font-size="46" fill="#000">
<text x="148.5" y="1204.0">0</text>
<text x="148.8" y="1025.6">2</text>
<text x="148.4" y="847.2">4</text>
<text x="148.2" y="668.8">6</text>
<text x="148.5" y="490.4">8</text>
<text x="123.1 148.1" y="312.0">10</text>
<text x="123.1 148.4" y="133.6">12</text>
<text x="183.5" y="1248.5">0</text>
<text x="539.1" y="1248.5">5</text>
<text x="882.6 907.6" y="1248.5">10</text>
<text x="1238.6 1263.2" y="1248.5">15</text>
<text x="1595.5 1619.6" y="1248.5">20</text>
</g>
<g fill="none" stroke-width="6">
<path d="M279 107 L410 107" stroke="#ff00ff" stroke-dasharray="13 8 1.5 8"/>
<path d="M279 178.5 L410 178.5" stroke="#000000" stroke-dasharray="7.5 10.2" stroke-width="5"/>
<path d="M279 267 L410 267" stroke="#0000ff" stroke-dasharray="20.5 12 3 13"/>
<path d="M279 355 L410 355" stroke="#ff0000" stroke-dasharray="17 21"/>
</g>
<g font-family="'Liberation Serif', 'Times New Roman', serif" font-size="59" fill="#000">
<text><tspan x="424.5" y="126.0" stroke="#000" stroke-width="1.0">-</tspan><tspan x="442.8" y="126.0">O</tspan><tspan x="484.3" y="126.0">H</tspan></text>
<text><tspan x="424.5" y="197.7" stroke="#000" stroke-width="1.0">-</tspan><tspan x="442.8" y="197.7">(</tspan><tspan x="462.1" y="197.7">C</tspan><tspan x="500.2" y="197.7">H</tspan><tspan x="542.1" y="217.8" font-size="36">2</tspan><tspan x="559.5" y="197.7">)</tspan><tspan x="577.8" y="217.8" font-size="36">3</tspan><tspan x="597.3" y="197.7">C</tspan><tspan x="635.2" y="197.7">H</tspan><tspan x="676.0" y="217.8" font-size="36">3</tspan></text>
<text><tspan x="424.5" y="285.9" stroke="#000" stroke-width="1.0">-</tspan><tspan x="442.8" y="285.9">(</tspan><tspan x="462.1" y="285.9">C</tspan><tspan x="500.2" y="285.9">H</tspan><tspan x="542.1" y="305.8" font-size="36">2</tspan><tspan x="559.5" y="285.9">)</tspan><tspan x="578.0" y="305.8" font-size="36">7</tspan><tspan x="597.3" y="285.9">C</tspan><tspan x="635.2" y="285.9">H</tspan><tspan x="676.0" y="305.8" font-size="36">3</tspan></text>
<text><tspan x="424.5" y="374.0" stroke="#000" stroke-width="1.0">-</tspan><tspan x="442.8" y="374.0">(</tspan><tspan x="462.1" y="374.0">C</tspan><tspan x="500.2" y="374.0">H</tspan><tspan x="542.1" y="394.0" font-size="36">2</tspan><tspan x="559.7" y="374.0">)</tspan><tspan x="577.9" y="394.0" font-size="36">1</tspan><tspan x="596.1" y="394.0" font-size="36">1</tspan><tspan x="615.2" y="374.0">C</tspan><tspan x="652.2" y="374.0">H</tspan><tspan x="693.8" y="394.0" font-size="36">3</tspan></text>
<text y="1342"><tspan x="865.3" font-style="italic">t</tspan><tspan x="881.8">/</tspan><tspan x="897.4">p</tspan><tspan x="927.4">s</tspan></text>
<text transform="translate(78 756) rotate(-90)" y="0"><tspan x="1.9" font-style="italic">M</tspan><tspan x="52.5" font-style="italic">S</tspan><tspan x="81.1" font-style="italic">D</tspan><tspan x="123.2">/</tspan><tspan x="140.8" font-family="'Liberation Sans', Arial, sans-serif" font-size="55">Å</tspan><tspan x="177.4" y="-28" font-size="36">2</tspan></text>
</g>
</svg>
</body></html>
